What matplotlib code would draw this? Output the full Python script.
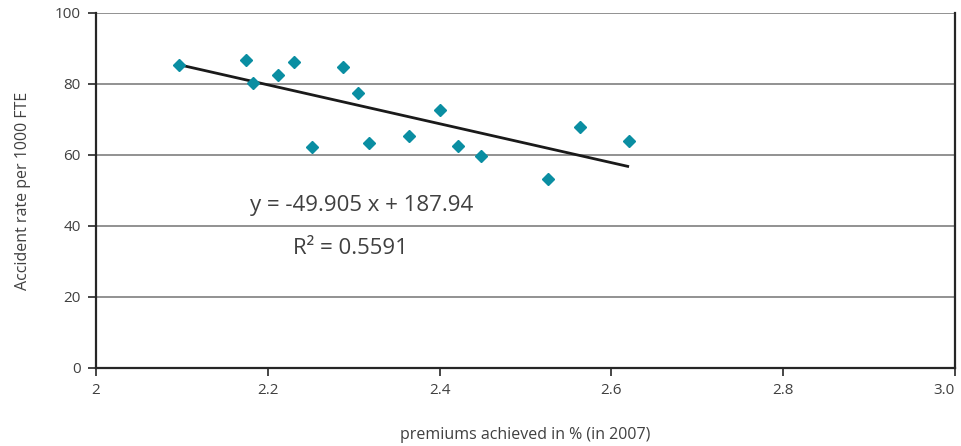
import numpy as np
from matplotlib import pyplot as plt

plt.rcParams['font.family'] = ['Open Sans', 'DejaVu Sans']

premiums = [2.097, 2.175, 2.183, 2.212, 2.230, 2.251, 2.288, 2.305,
            2.318, 2.364, 2.401, 2.422, 2.448, 2.526, 2.564, 2.620]
accidents = [85.4, 86.8, 80.2, 82.5, 86.2, 62.3, 84.7, 77.6,
             63.5, 65.4, 72.7, 62.5, 59.8, 53.3, 67.8, 64.0]
# trendline as drawn in the chart (end points)
trend_x = [2.099, 2.619]
trend_y = [85.3, 56.8]
equation = 'y = -49.905 x + 187.94'
r_squared = 'R² = 0.5591'
x_ticks = [2, 2.2, 2.4, 2.6, 2.8, 3.0]
x_tick_labels = ['2', '2.2', '2.4', '2.6', '2.8', '3.0']
y_ticks = [0, 20, 40, 60, 80, 100]

text_color = '#404040'
fig = plt.figure(figsize=(9.61, 4.46), dpi=100)
ax = fig.add_axes([0.0999, 0.1749, 0.8938, 0.7960])

ax.set_xlim(2, 3.0)
ax.set_ylim(0, 100)
ax.set_yticks(y_ticks)
ax.set_xticks(x_ticks)
ax.set_xticklabels(x_tick_labels)
ax.get_xticklabels()[-1].set_ha('right')
ax.grid(axis='y', color='#7f7f7f', linewidth=1.2)
ax.set_axisbelow(True)

for side in ['left', 'bottom', 'right']:
    ax.spines[side].set_color('#262626')
    ax.spines[side].set_linewidth(1.6)
ax.spines['top'].set_visible(False)
ax.tick_params(axis='both', colors='#262626', labelcolor=text_color,
               labelsize=11, length=6, width=1.2, direction='out')
ax.tick_params(axis='x', pad=5)
ax.tick_params(axis='y', pad=5)

ax.plot(trend_x, trend_y, color='#1a1a1a', linewidth=2, zorder=3)
ax.plot(premiums, accidents, linestyle='none', marker='D', markersize=6.5,
        color='#0a8ea2', zorder=4)

ax.text(2.179, 45.9, equation, fontsize=16,
        color=text_color, ha='left', va='center')
ax.text(2.229, 33.6, r_squared, fontsize=16,
        color=text_color, ha='left', va='center')

ax.set_xlabel('premiums achieved in % (in 2007)', fontsize=11.5, color=text_color,
              labelpad=21)
ax.set_ylabel('Accident rate per 1000 FTE', fontsize=11.5, color=text_color,
              labelpad=17)

fig.savefig('out.png', dpi=100)
